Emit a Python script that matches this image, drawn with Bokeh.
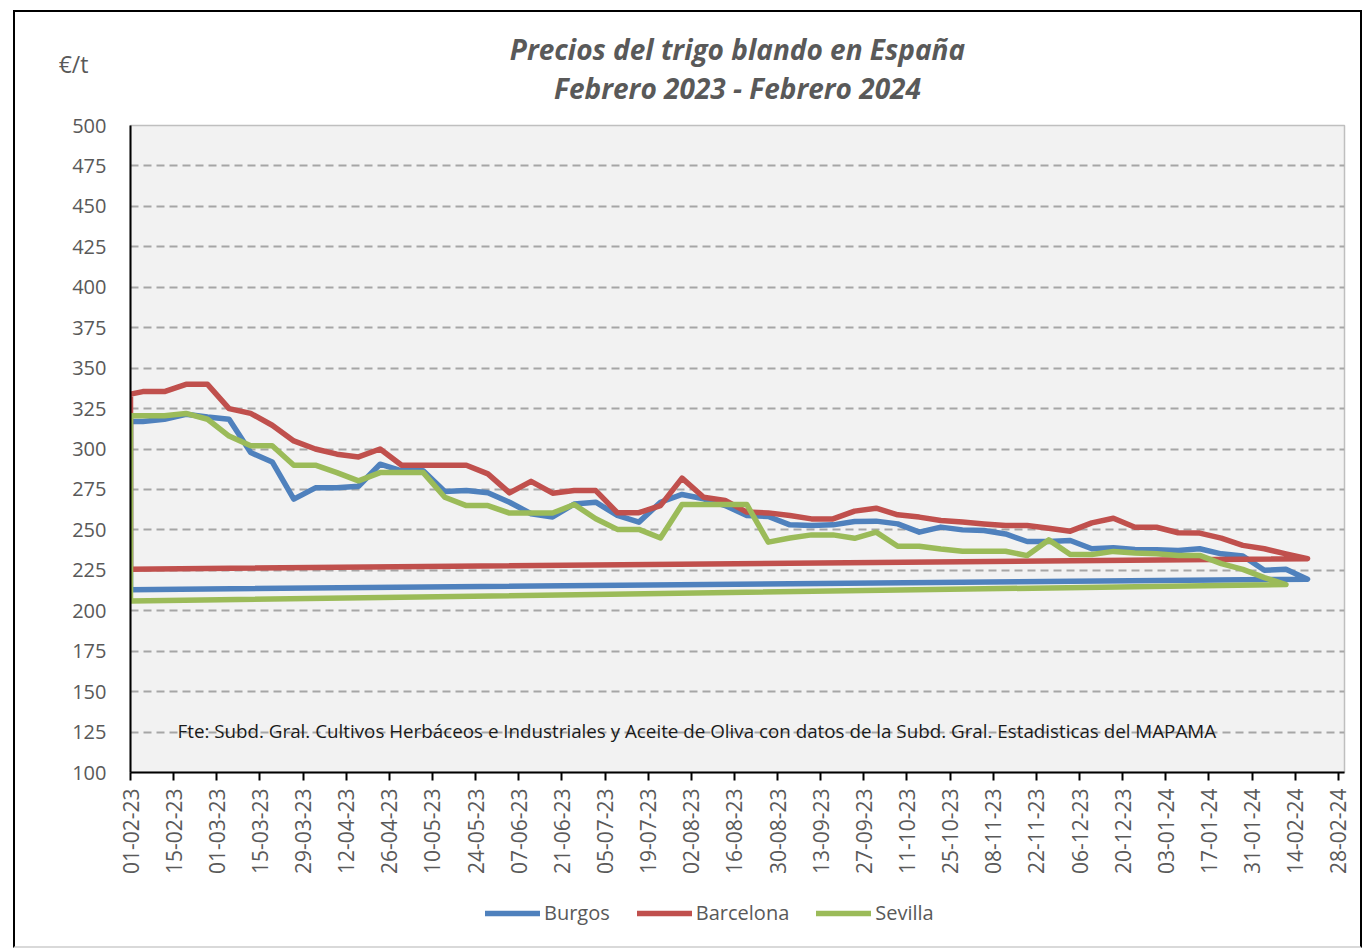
import math
import pandas as pd
from bokeh.plotting import figure
from bokeh.layouts import column
from bokeh.models import Range1d, FixedTicker, Legend, LegendItem, Label
from bokeh.core.properties import value
from bokeh.embed import file_html
from bokeh.resources import INLINE

# ---------------- data ----------------
start_date = pd.Timestamp("2023-02-01")
weeks = list(pd.date_range("2023-02-05", periods=55, freq="7D"))

burgos_start = 317
burgos = [317, 318.4, 321.5, 319.8, 318.4, 297.8, 292, 269, 276, 276,
          277, 290.6, 286.5, 286.5, 273.7, 274.3, 272.9, 267.1, 260, 258,
          266, 267.1, 258.9, 254.8, 267.1, 271.9, 269.2, 265, 258.9, 258.3,
          253.1, 252.7, 253.1, 255.2, 255.4, 253.7, 248.6, 251.7, 250, 249.6,
          247.5, 242.8, 242.8, 243.4, 238.3, 238.9, 237.9, 237.7, 237.3, 238.3,
          235.2, 233.8, 225, 225.6, 219.5]
burgos_close = 213

barcelona_start = 333.9
barcelona = [335.5, 335.5, 340, 340, 325, 322, 314.7, 305, 300, 296.8,
             295.1, 300, 290, 290, 290, 290, 284.6, 272.9, 280, 272.7,
             274.3, 274.3, 260.6, 260.6, 265, 282, 270.2, 268.2, 261, 260.5,
             258.9, 256.8, 256.8, 261.6, 263.4, 259.3, 257.9, 255.8, 254.8, 253.7,
             252.7, 252.7, 251, 249.2, 254.3, 257.2, 251.6, 251.6, 248.2, 248,
             244.9, 240.4, 238.3, 235.2, 232.2]
barcelona_close = 225.7

sevilla_start = 320.5
sevilla = [320.5, 320.5, 322, 318.4, 308, 302, 302, 290, 290, 285.4,
           280.3, 285.4, 285.4, 285.4, 270.2, 265, 265, 260.4, 260.4, 260.4,
           265.7, 256.9, 250.3, 250.3, 245, 265.7, 265.7, 265.7, 265.7, 242.4,
           245, 246.9, 246.9, 244.8, 248.6, 239.9, 239.9, 238.2, 236.8, 236.8,
           236.8, 234.1, 243.8, 234.8, 234.8, 236.7, 235.7, 235.2, 234.2, 234.2,
           229.1, 225.6, 220.5, 216.2]
sevilla_close = 206

series_names = ["Burgos", "Barcelona", "Sevilla"]
series_colors = ["#4F81BD", "#C0504D", "#9BBB59"]

tick_dates = list(pd.date_range("2023-02-01", "2024-02-28", freq="14D"))
tick_labels = [d.strftime("%d-%m-%y") for d in tick_dates]
y_ticks = list(range(100, 501, 25))

title_line1 = "Precios del trigo blando en España"
title_line2 = "Febrero 2023 - Febrero 2024"
unit_label = "€/t"
source_note = ("Fte: Subd. Gral. Cultivos Herbáceos e Industriales y Aceite de Oliva  "
               "con datos de la Subd. Gral. Estadisticas del MAPAMA")

x_min = pd.Timestamp("2023-02-01")
x_max = pd.Timestamp("2024-03-01")

FONT = "Open Sans"
GREY = "#595959"
W = 1345
BL, BR = 115, 16          # left / right borders around the plot frame
HEADER_H, MAIN_H, LEGEND_H = 101, 767, 66
LINE_W = 5.5


def bare(fig):
    fig.xgrid.visible = False
    fig.ygrid.visible = False
    return fig


def series_xy(s0, vals, close):
    xs = [start_date, start_date] + weeks[:len(vals)] + [start_date]
    ys = [close, s0] + vals + [close]
    return xs, ys


all_series = [
    (burgos_start, burgos, burgos_close),
    (barcelona_start, barcelona, barcelona_close),
    (sevilla_start, sevilla, sevilla_close),
]

# ---------------- header: titles and unit ----------------
header = bare(figure(width=W, height=HEADER_H, x_range=Range1d(0, 1),
                     y_range=Range1d(HEADER_H, 0),
                     output_backend="svg", toolbar_location=None,
                     x_axis_location=None, y_axis_location="left",
                     min_border_left=BL, min_border_right=BR,
                     min_border_top=0, min_border_bottom=0,
                     outline_line_color=None,
                     background_fill_color="white", border_fill_color="white"))
header.text(x=[0.5, 0.5], y=[36, 75], text=[title_line1, title_line2],
            text_align="center", text_baseline="alphabetic",
            text_font=value(FONT), text_font_size="28px",
            text_font_style="bold italic", text_color=GREY)
unit_pos = 51.5
header.yaxis.ticker = FixedTicker(ticks=[unit_pos])
header.yaxis.major_label_overrides = {unit_pos: unit_label}
header.yaxis.axis_line_color = None
header.yaxis.major_tick_line_color = None
header.yaxis.minor_tick_line_color = None
header.yaxis.major_tick_out = 0
header.yaxis.major_label_standoff = 42
header.yaxis.major_label_text_font = FONT
header.yaxis.major_label_text_font_size = "23px"
header.yaxis.major_label_text_color = GREY

# ---------------- main chart ----------------
p = figure(width=W, height=MAIN_H, x_axis_type="datetime",
           x_range=Range1d(x_min, x_max), y_range=Range1d(100, 500),
           output_backend="svg", toolbar_location=None,
           min_border_left=BL, min_border_right=BR,
           min_border_top=12, min_border_bottom=108,
           background_fill_color="#F2F2F2", border_fill_color="white",
           outline_line_color="#BFBFBF", outline_line_width=1.5)

p.xgrid.grid_line_color = None
p.ygrid.ticker = FixedTicker(ticks=y_ticks)
p.ygrid.grid_line_color = "#A6A6A6"
p.ygrid.grid_line_width = 2
p.ygrid.grid_line_dash = "8 5"

p.yaxis.ticker = FixedTicker(ticks=y_ticks)
p.yaxis.axis_line_color = "black"
p.yaxis.axis_line_width = 2
p.yaxis.major_tick_line_color = None
p.yaxis.minor_tick_line_color = None
p.yaxis.major_tick_out = 0
p.yaxis.major_label_text_font = FONT
p.yaxis.major_label_text_font_size = "20px"
p.yaxis.major_label_text_color = GREY
p.yaxis.major_label_standoff = 24

tick_ms = [d.value / 1e6 for d in tick_dates]
p.xaxis.ticker = FixedTicker(ticks=tick_ms)
p.xaxis.major_label_overrides = {t: lab for t, lab in zip(tick_ms, tick_labels)}
p.xaxis.axis_line_color = "black"
p.xaxis.axis_line_width = 2
p.xaxis.major_tick_line_color = "black"
p.xaxis.major_tick_line_width = 2
p.xaxis.major_tick_out = 8
p.xaxis.major_tick_in = 0
p.xaxis.minor_tick_line_color = None
p.xaxis.major_label_orientation = math.pi / 2
p.xaxis.major_label_text_font = FONT
p.xaxis.major_label_text_font_size = "21px"
p.xaxis.major_label_text_color = GREY
p.xaxis.major_label_standoff = 8

for ser, color in zip(all_series, series_colors):
    xs, ys = series_xy(*ser)
    p.line(xs, ys, line_color=color, line_width=LINE_W,
           line_cap="round", line_join="round")

p.add_layout(Label(x=x_min, y=125, text=source_note, text_align="left",
                   text_baseline="alphabetic", x_offset=47, y_offset=1,
                   text_font=FONT, text_font_size="18.8px", text_color="#1A1A1A"))

# ---------------- legend strip ----------------
leg = bare(figure(width=W, height=LEGEND_H, x_axis_type="datetime",
                  x_range=Range1d(x_min, x_max), y_range=Range1d(0, 1),
                  output_backend="svg", toolbar_location=None,
                  x_axis_location=None, y_axis_location=None,
                  min_border_left=BL, min_border_right=BR,
                  min_border_top=0, min_border_bottom=0,
                  outline_line_color=None,
                  background_fill_color="white", border_fill_color="white"))
keys = []
for ser, color in zip(all_series, series_colors):
    xs, ys = series_xy(*ser)   # same series; outside this strip's view, only the key shows
    keys.append(leg.line(xs, ys, line_color=color, line_width=LINE_W,
                         line_cap="round"))
legend = Legend(items=[LegendItem(label=n, renderers=[k])
                       for n, k in zip(series_names, keys)],
                orientation="horizontal", location=(355, 20),
                label_text_font=FONT, label_text_font_size="20px",
                label_text_color=GREY, glyph_width=55, glyph_height=20,
                spacing=27, label_standoff=4, padding=0, margin=0,
                background_fill_alpha=0, border_line_alpha=0)
leg.add_layout(legend, "center")

layout = column(header, p, leg, spacing=0, margin=(10, 0, 0, 13),
                styles={"border": "2px solid black",
                        "border-bottom": "2px solid #D9D9D9"})

open("out.html", "w").write(file_html(layout, INLINE))
